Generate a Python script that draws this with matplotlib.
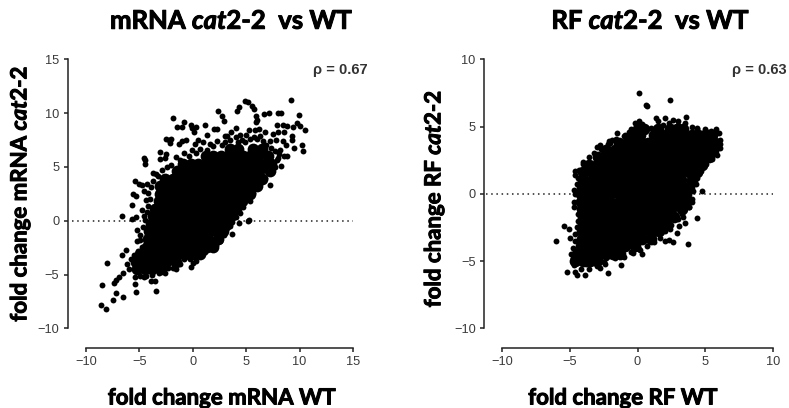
import matplotlib
matplotlib.use("Agg")
from matplotlib import pyplot as plt
from matplotlib import patheffects as pe

plt.rcParams["font.family"] = ["Lato", "DejaVu Sans"]
plt.rcParams["mathtext.fontset"] = "custom"
plt.rcParams["mathtext.it"] = "Lato:italic:bold"
plt.rcParams["mathtext.rm"] = "Lato:bold"

W, H = 789.0, 408.0

# data. the solid middle of each cloud is too dense to
# read single points, so it is a coarse grid of values drawn with bigger dots
mrna_core_y = [-4.5, -3.8, -3.1, -2.4, -1.7, -1.0, -0.3, 0.4, 1.1, 1.8, 2.5, 3.2, 3.9, 4.6, 5.3, 6.0, 6.7]
mrna_core_x = [
    [-5.2, -4.5, -3.8, -3.0],
    [-5.3, -4.6, -3.9, -3.2, -2.5, -1.6],
    [-4.9, -4.2, -3.5, -2.8, -2.1, -1.4, -0.7, 0.0, 0.7],
    [-4.3, -3.6, -2.9, -2.2, -1.5, -0.8, -0.1, 0.6, 1.3, 1.9],
    [-4.2, -3.5, -2.8, -2.1, -1.4, -0.7, 0.0, 0.7, 1.4, 2.4],
    [-4.1, -3.4, -2.7, -2.0, -1.3, -0.6, 0.1, 0.8, 1.5, 2.2, 2.8],
    [-3.9, -3.2, -2.5, -1.8, -1.1, -0.4, 0.3, 1.0, 1.7, 2.4, 3.2],
    [-3.7, -3.0, -2.3, -1.6, -0.9, -0.2, 0.5, 1.2, 1.9, 2.6, 3.6],
    [-3.5, -2.8, -2.1, -1.4, -0.7, 0.0, 0.7, 1.4, 2.1, 2.8, 3.4, 4.0],
    [-3.2, -2.5, -1.8, -1.1, -0.4, 0.3, 1.0, 1.7, 2.4, 3.1, 3.8, 4.6],
    [-3.1, -2.4, -1.7, -1.0, -0.3, 0.4, 1.1, 1.8, 2.5, 3.2, 3.9, 4.6, 5.4],
    [-3.1, -2.4, -1.7, -1.0, -0.3, 0.4, 1.1, 1.8, 2.5, 3.2, 3.9, 4.6, 5.3, 6.0],
    [-2.6, -1.9, -1.2, -0.5, 0.2, 0.9, 1.6, 2.3, 3.0, 3.7, 4.4, 5.1, 5.8, 6.5],
    [-1.5, -0.8, -0.1, 0.6, 1.3, 2.0, 2.7, 3.4, 4.1, 4.8, 5.5, 6.2, 7.2],
    [-0.9, -0.2, 0.5, 1.2, 1.9, 2.6, 3.3, 4.0, 4.7, 5.4, 6.1, 6.8, 7.3],
    [1.2, 1.9, 2.6, 3.3, 4.0, 4.7, 5.4, 6.1, 7.0],
    [3.5, 4.2, 5.6, 6.5],
]

mrna_x = [-8.6, -8.1, -8.5, -8.0, -7.5, -7.2, -6.5, -7.4, -7.2, -6.9, -6.5, -6.6, -6.3, -6.6, -5.7, -5.3,
          -5.7, -5.6, -5.3, -5.4, -5.0, -4.8, -4.9, -5.2, -5.2, -5.4, -5.3, -3.4, -3.9, -3.5, -4.6, -4.8,
          -4.6, -4.5, -4.6, -4.5, -3.7, -3.4, -3.1, -3.1, -2.6, -2.5, -2.2, -2.5, -2.0, -2.1, -1.9, -1.5,
          -1.0, -0.8, -0.2, -0.1, 0.3, 0.1, 1.1, 1.3, -1.3, -1.0, -0.6, 0.2, 0.5, 1.6, 2.4, 2.7, 2.9, 2.0,
          2.3, 3.0, 3.6, 4.0, 4.1, 4.3, 4.9, 5.2, 5.5, 5.7, 5.9, 5.9, 6.0, 6.7, 7.1, 8.0, 8.3, 7.9, 8.4,
          9.2, 9.9, 9.4, 8.8, 9.8, 10.0, 10.5, 9.3, 9.3, 10.2, 10.3, 9.5, 8.7, 8.2, 8.3, 7.7, 7.2, 5.4,
          5.2, 5.3, 4.3, 3.7, 3.3, 3.5, 2.2, 1.8, 1.1, 0.3, -0.2, 0.0, -1.6, -2.6, -1.8, 5.8, 6.2, 6.8,
          7.5, 8.0, 8.5, 6.0, 6.6, 7.2, 7.8, 8.4, 5.0, 5.4, 4.6, 4.2, 3.0, 8.8, 8.5, 8.0]
mrna_y = [-7.8, -8.2, -6.0, -3.9, -7.4, -6.7, -7.1, -5.8, -5.5, -5.2, -4.9, -3.2, -2.7, 0.4, 0.2, 0.3,
          1.5, 2.5, 2.3, 3.7, 3.4, 3.3, -1.8, -0.9, -1.9, -5.9, -6.6, -6.5, -5.6, -5.6, -5.2, 1.0,
          0.4, 5.6, 5.8, 5.3, 4.4, 4.3, 5.7, 6.4, 5.8, 6.2, 7.5, 7.6, 7.6, 7.2, 9.5, 8.7,
          8.7, 9.2, 8.9, 8.6, 8.7, 8.2, 8.9, 8.0, 7.1, 7.4, 7.5, 7.1, 7.5, 7.1, 10.2, 9.7, 9.3, 8.5,
          8.5, 7.9, 8.2, 8.6, 10.2, 10.6, 11.1, 11.0, 10.7, 10.4, 9.7, 9.2, 9.4, 9.9, 10.0, 10.0, 10.0, 8.9, 8.9,
          11.2, 9.8, 8.7, 8.8, 9.1, 8.8, 8.4, 7.9, 7.5, 7.0, 6.5, 6.8, 7.0, 6.6, 5.1, 5.0, 3.3, 1.8,
          0.0, 0.05, -0.2, -1.2, 0.0, -0.5, -2.3, -2.6, -2.9, -3.7, -4.3, -3.9, -4.5, -4.9, -4.0, 8.4, 8.5, 8.2,
          8.1, 8.2, 8.2, 7.6, 7.4, 7.4, 7.5, 7.4, 8.0, 7.6, 7.5, 7.3, 7.3, 6.0, 6.0, 5.8]

# points along the rim of the mrna cloud
mrna_edge_x = [-2.0, -1.6, -1.2, -0.8, -0.4, -0.1, 0.3, 0.7, 1.0, 1.3, 1.9, 2.3, 2.7, 3.2, 3.5, 4.0, 4.4, 4.9, 5.3,
               5.7, 6.3, 6.9, 7.3, 7.7, 8.1, 7.9, 7.5, 7.0, 7.2, 6.8, 6.3, 5.9, 5.6, 5.0, 4.7, 4.4, 4.0, 3.7, 3.2,
               2.9, 2.5, 2.0, 1.5, 1.1, 0.6, 0.3, -0.3, -0.8, -1.2, -1.9, -2.3, -2.8, -3.2, -3.8, -4.4, -4.9, -5.4,
               -6.0, -6.2, -5.8, -5.5, -5.1, -4.8, -4.9, -4.7, -4.5, -4.3, -4.2, -4.0, -4.2, -3.9, -3.7, -3.3, -2.9,
               -2.4, -4.4, -4.6, -4.3]
mrna_edge_y = [5.2, 5.9, 5.6, 6.3, 6.0, 6.6, 6.3, 6.7, 7.3, 6.6, 6.9, 7.4, 7.0, 7.9, 7.5, 7.8, 8.0, 7.3, 8.4,
               7.8, 7.9, 7.0, 6.8, 6.5, 6.2, 5.6, 5.5, 5.0, 4.4, 4.0, 3.6, 3.0, 2.6, 2.0, 1.3, 0.7, 0.3, -0.1, -0.7,
               -1.3, -1.9, -2.0, -2.3, -2.6, -3.0, -3.3, -3.6, -3.6, -4.0, -4.4, -4.4, -4.6, -4.9, -5.0, -5.1, -5.1, -5.2,
               -4.5, -4.0, -3.6, -3.2, -2.8, -2.4, -1.3, -0.6, 0.1, 0.8, 1.4, 2.0, 2.6, 3.1, 3.7, 4.2, 4.7,
               5.0, 1.9, 2.8, 3.4]

rf_core_y = [-5.0, -4.45, -3.9, -3.35, -2.8, -2.25, -1.7, -1.15, -0.6, -0.05, 0.5, 1.05, 1.6, 2.15, 2.7, 3.25, 3.8, 4.35, 4.8]
rf_core_x = [
    [-4.6, -4.0, -3.5, -3.0],
    [-4.5, -3.9, -3.4, -2.8, -2.3, -1.8, -1.3],
    [-4.2, -3.7, -3.1, -2.6, -2.0, -1.5, -0.9, -0.2],
    [-4.1, -3.5, -3.0, -2.4, -1.9, -1.3, -0.8, -0.2, 0.3, 1.0],
    [-4.1, -3.5, -3.0, -2.4, -1.9, -1.3, -0.8, -0.2, 0.3, 0.9, 1.6],
    [-4.0, -3.4, -2.9, -2.3, -1.8, -1.2, -0.7, -0.1, 0.4, 1.0, 1.5, 2.1],
    [-4.0, -3.4, -2.9, -2.3, -1.8, -1.2, -0.7, -0.1, 0.4, 1.0, 1.5, 2.1, 2.7],
    [-4.1, -3.5, -3.0, -2.4, -1.9, -1.3, -0.8, -0.2, 0.3, 0.9, 1.4, 2.0, 2.5, 3.3],
    [-4.2, -3.6, -3.1, -2.5, -2.0, -1.4, -0.9, -0.3, 0.2, 0.8, 1.3, 1.9, 2.4, 3.0, 3.5],
    [-4.2, -3.6, -3.1, -2.5, -2.0, -1.4, -0.9, -0.3, 0.2, 0.8, 1.3, 1.9, 2.4, 3.0, 3.6],
    [-4.1, -3.5, -3.0, -2.4, -1.9, -1.3, -0.8, -0.2, 0.3, 0.9, 1.4, 2.0, 2.5, 3.1, 3.8],
    [-4.0, -3.4, -2.9, -2.3, -1.8, -1.2, -0.7, -0.1, 0.4, 1.0, 1.5, 2.1, 2.6, 3.2, 4.0],
    [-4.0, -3.4, -2.9, -2.3, -1.8, -1.2, -0.7, -0.1, 0.4, 1.0, 1.5, 2.1, 2.6, 3.2, 3.8, 4.4],
    [-3.6, -3.0, -2.5, -1.9, -1.4, -0.8, -0.3, 0.3, 0.8, 1.4, 1.9, 2.5, 3.0, 3.6, 4.1, 4.8],
    [-2.9, -2.3, -1.8, -1.2, -0.7, -0.1, 0.4, 1.0, 1.5, 2.1, 2.6, 3.2, 3.7, 4.3, 4.8, 5.3],
    [-2.3, -1.7, -1.2, -0.6, -0.1, 0.5, 1.0, 1.6, 2.1, 2.7, 3.2, 3.8, 4.3, 4.9, 5.5],
    [-1.4, -0.8, -0.3, 0.3, 0.8, 1.4, 1.9, 2.5, 3.0, 3.6, 4.1, 4.7, 5.2, 5.7],
    [-0.4, 0.2, 1.2, 1.8, 2.3, 2.9, 3.4, 4.0, 4.5, 5.0, 5.5],
    [0.0, 0.5, 1.5, 2.4, 2.9, 3.4],
]

rf_x = [-6.0, -5.4, -5.0, -4.8, -5.2, -5.1, -4.6, -4.5, -3.9, -3.8, -2.8, -2.2, -2.5, -2.3, -1.2, -0.3,
        0.3, 0.1, -4.7, -4.5, -4.3, -4.0, -3.7, -3.9, -4.6, -4.6, -3.0, -2.8, -2.5, -2.2, -2.1, -1.9, -1.5, -0.9,
        -0.6, -0.2, 0.1, 0.3, 0.4, 0.6, 0.7, 2.4, 1.4, 1.5, 2.0, 2.3, 2.6, 3.0, 3.6, 3.5, 4.0, 4.4,
        5.0, 5.4, 5.8, 6.0, 6.1, 6.1, 5.9, 4.8, 4.4, 3.7, 2.6, 2.9, 2.3, 2.4, 3.5, 3.4, 3.1, 2.7, 1.2, 1.7,
        4.0, 4.2, 4.8, 5.5, 5.9, 3.8, 3.2, 2.0, 0.1]
rf_y = [-3.5, -2.4, -3.3, -4.8, -5.8, -2.6, -5.8, -6.0, -6.0, -5.2, -5.5, -5.9, -5.1, -4.8, -5.3, -4.4,
        -4.5, -4.1, 0.3, 0.1, -0.5, 2.4, 1.9, 1.4, 1.7, 1.4, 3.5, 3.6, 3.3, 3.7, 3.9, 4.0, 4.5, 4.4,
        4.6, 5.3, 5.4, 5.2, 5.0, 6.6, 6.5, 7.0, 5.6, 5.4, 5.6, 5.3, 5.5, 5.4, 5.7, 5.3, 5.0, 4.9,
        4.8, 4.7, 4.8, 4.5, 4.0, 3.4, 2.9, 0.2, -1.8, -3.7, -3.6, -2.9, -3.4, -2.6, -2.2, -1.7, -2.4, -1.7, -3.0, -2.9,
        -0.6, 0.8, 2.1, 2.9, 3.6, -1.0, -1.3, -3.5, 7.5]

# points along the rim of the rf cloud
rf_edge_x = [-4.9, -4.8, -4.6, -4.6, -4.5, -4.4, -4.4, -4.7, -4.7, -4.6, -4.5, -4.4, -4.3, -4.0, -3.6, -3.2, -2.7, -2.0,
             -1.6, -1.0, -0.5, 1.0, 1.9, 3.0, 4.4, 5.2, 5.7, 6.1, 5.8, 5.5, 5.1, 4.7, 4.4, 4.3, 4.1, 4.0, 3.8, 3.3,
             3.0, 2.5, 2.0, 1.7, 1.2, 0.7, 0.2, -0.5, -1.0, -1.7, -2.4, -3.0, -3.6, -4.2, -4.7]
rf_edge_y = [-4.5, -4.0, -3.5, -3.0, -2.5, -2.0, -1.5, -1.0, -0.6, 0.0, 0.7, 1.2, 1.8, 2.2, 2.7, 3.0, 3.3, 3.8,
             4.1, 4.3, 4.8, 4.9, 5.1, 5.1, 4.8, 4.6, 4.5, 3.7, 3.2, 2.6, 2.2, 1.7, 1.2, 0.7, 0.2, -0.4, -1.0, -1.5,
             -1.9, -2.3, -2.8, -3.3, -3.6, -3.9, -4.2, -4.3, -4.7, -4.8, -5.2, -5.4, -5.6, -5.6, -5.3]

mrna_ticks = [-10, -5, 0, 5, 10, 15]
rf_ticks = [-10, -5, 0, 5, 10]


def flatten(rows_x, rows_y):
    xs, ys = [], []
    for row, y in zip(rows_x, rows_y):
        xs += row
        ys += [y] * len(row)
    return xs, ys


def panel(fig, box, ticks, x, y, core_x, core_y, line_to):
    left, right = box
    ax = fig.add_axes([left / W, 1 - 328.3 / H, (right - left) / W, (328.3 - 59.3) / H])
    ax.patch.set_alpha(0)
    ax.set_xlim(ticks[0], ticks[-1])
    ax.set_ylim(ticks[0], ticks[-1])
    ax.spines["top"].set_visible(False)
    ax.spines["right"].set_visible(False)
    ax.spines["left"].set_position(("outward", 18.3 * 72 / 100))
    ax.spines["bottom"].set_position(("outward", 19.2 * 72 / 100))
    for side in ["left", "bottom"]:
        ax.spines[side].set_linewidth(1.1)
        ax.spines[side].set_color("#222222")
    ax.set_xticks(ticks)
    ax.set_yticks(ticks)
    ax.tick_params(length=3, width=1.1, color="#222222", labelsize=9.2, labelcolor="#3a3a3a",
                   pad=3, labelfontfamily="Liberation Sans")
    ax.plot(line_to, [0, 0], color="#222222", lw=1.1, ls=(0, (1, 2.4)), zorder=1, clip_on=False)
    cx, cy = flatten(core_x, core_y)
    ax.scatter(cx, cy, s=72, color="black", linewidths=0, zorder=3)
    ax.scatter(x, y, s=18, color="black", linewidths=0, zorder=3, clip_on=False)
    return ax


fig = plt.figure(figsize=(W / 100, H / 100), dpi=100)

panel(fig, (86, 353), mrna_ticks, mrna_x + mrna_edge_x, mrna_y + mrna_edge_y, mrna_core_x, mrna_core_y, [-11.3, 15])
panel(fig, (502.3, 772.7), rf_ticks, rf_x + rf_edge_x, rf_y + rf_edge_y, rf_core_x, rf_core_y, [-11.2, 10])

heavy = [pe.withStroke(linewidth=0.7, foreground="black")]
bold = dict(fontweight="bold", ha="center", va="center", path_effects=heavy)
fig.text(232 / W, 1 - 21 / H, r"mRNA $\mathit{cat2}$-$\mathit{2}$  vs WT", fontsize=18.5, **bold)
fig.text(651 / W, 1 - 21 / H, r"RF $\mathit{cat2}$-$\mathit{2}$  vs WT", fontsize=18.5, **bold)
fig.text(222 / W, 1 - 398 / H, "fold change mRNA WT", fontsize=16, **bold)
fig.text(623 / W, 1 - 398 / H, "fold change RF WT", fontsize=16, **bold)
fig.text(20 / W, 1 - 193.5 / H, r"fold change mRNA $\mathit{cat2}$-$\mathit{2}$", fontsize=16, rotation=90, **bold)
fig.text(434 / W, 1 - 198.5 / H, r"fold change RF $\mathit{cat2}$-$\mathit{2}$", fontsize=16, rotation=90, **bold)
rho = dict(fontsize=10.5, family=["Liberation Sans", "DejaVu Sans"], fontweight="bold", color="#333333", ha="center", va="center")
fig.text(340 / W, 1 - 70 / H, "ρ = 0.67", **rho)
fig.text(759 / W, 1 - 70 / H, "ρ = 0.63", **rho)

fig.savefig("out.png", dpi=100)
